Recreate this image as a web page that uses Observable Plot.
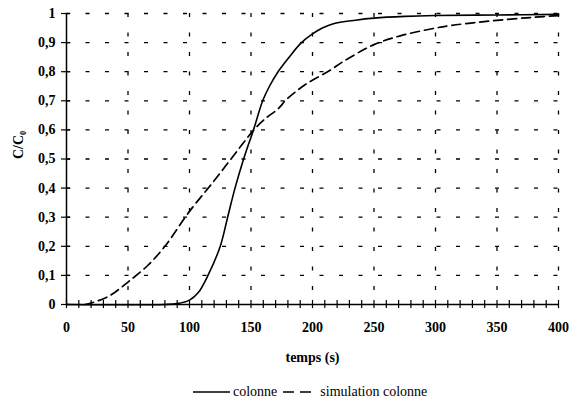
<!DOCTYPE html>
<html><head><meta charset="utf-8">
<script src="https://cdn.jsdelivr.net/npm/d3@7"></script>
<script src="https://cdn.jsdelivr.net/npm/@observablehq/plot@0.6"></script>
<style>
body{margin:0;background:#fff;font-family:"Liberation Serif","Times New Roman",serif}
#chart svg{display:block}
#legend{position:relative;height:16px;margin-top:9px;font-family:"Liberation Serif","Times New Roman",serif;font-size:14px;line-height:16px;color:#000;white-space:nowrap}
#legend .inner{position:absolute;left:193px;top:0;display:flex;align-items:center}
#legend svg{display:block}
</style>
</head><body><div id="chart"></div>
<div id="legend"><div class="inner">
<svg width="37" height="8"><line x1="0" y1="4" x2="37" y2="4" stroke="#000" stroke-width="1.3"/></svg>
<span style="margin:0 6px 0 3px">colonne</span>
<svg width="30" height="8"><line x1="0" y1="4" x2="30" y2="4" stroke="#000" stroke-width="1.3" stroke-dasharray="11,6"/></svg>
<span style="margin-left:7px">simulation colonne</span>
</div></div>
<script>
// colonne (measured)
const colonneT = [0, 80, 90, 100, 107, 115, 125, 131, 137, 144, 152, 159.5, 165, 172, 181, 191, 200, 208, 217, 235, 250, 275, 300, 350, 400];
const colonneC = [0, 0, 0.003, 0.015, 0.04, 0.1, 0.2, 0.3, 0.4, 0.5, 0.6, 0.7, 0.75, 0.8, 0.85, 0.9, 0.93, 0.95, 0.965, 0.977, 0.984, 0.99, 0.993, 0.995, 0.997];
// simulation colonne
const simT = [15, 20, 30, 37, 50, 66, 80, 100, 120, 137, 145, 153, 162, 172, 179, 195, 214, 225, 250, 272, 300, 313, 335, 359, 380, 400];
const simC = [0, 0.005, 0.02, 0.035, 0.077, 0.134, 0.2, 0.32, 0.425, 0.518, 0.562, 0.603, 0.64, 0.672, 0.705, 0.758, 0.804, 0.835, 0.893, 0.924, 0.95, 0.959, 0.97, 0.98, 0.987, 0.993];

const xTicks = [0, 50, 100, 150, 200, 250, 300, 350, 400];
const xMinor = d3.range(0, 401, 10);
const yTicks = [0, 0.1, 0.2, 0.3, 0.4, 0.5, 0.6, 0.7, 0.8, 0.9, 1];
const xGrid = [50, 100, 150, 200, 250, 300, 350, 400];
const yGrid = [0.1, 0.2, 0.3, 0.4, 0.5, 0.6, 0.7, 0.8, 0.9, 1];

const col = colonneT.map((t, i) => ({t, c: colonneC[i]}));
const sim = simT.map((t, i) => ({t, c: simC[i]}));
const fmt = d => String(d).replace(".", ",");
const serif = "'Liberation Serif', 'Times New Roman', serif";

const plot = Plot.plot({
  width: 580, height: 375,
  marginLeft: 66, marginRight: 22, marginTop: 13, marginBottom: 71,
  style: {fontFamily: serif, fontSize: "14px", fontWeight: "bold", color: "#000", background: "#fff"},
  x: {domain: [0, 400]},
  y: {domain: [0, 1]},
  marks: [
    Plot.ruleX(xGrid, {x: d => d, stroke: "#000", strokeWidth: 1.3, strokeDasharray: "4,15.5"}),
    Plot.ruleY(yGrid, {y: d => d, stroke: "#000", strokeWidth: 1.3, strokeDasharray: "4,15.5"}),
    Plot.line(sim, {x: "t", y: "c", curve: "catmull-rom", stroke: "#000", strokeWidth: 1.7, strokeDasharray: "9,5"}),
    Plot.line(col, {x: "t", y: "c", curve: "catmull-rom", stroke: "#000", strokeWidth: 1.6}),
    Plot.ruleY([0], {stroke: "#000", strokeWidth: 1.5}),
    Plot.ruleX([0], {stroke: "#000", strokeWidth: 1.5}),
    Plot.ruleX(xMinor, {x: d => d, y1: -0.014, y2: 0.014, stroke: "#000", strokeWidth: 1.2}),
    Plot.ruleY(yTicks, {y: d => d, x1: 0, x2: 3.5, stroke: "#000", strokeWidth: 1.2}),
    Plot.axisX(xTicks, {tickSize: 0, tickPadding: 18, tickFormat: d => d, label: null, fontFamily: serif, fontSize: 14}),
    Plot.axisY(yTicks, {tickSize: 5, tickPadding: 6, tickFormat: fmt, label: null, stroke: "#000", strokeWidth: 1.2, fontFamily: serif, fontSize: 14}),
    Plot.text(["temps (s)"], {frameAnchor: "bottom", lineAnchor: "middle", dy: 53, fontWeight: "bold", fontSize: 14, fontFamily: serif}),
    Plot.text(["C/C₀"], {frameAnchor: "left", dx: -48, rotate: -90, fontWeight: "bold", fontSize: 14, fontFamily: serif})
  ]
});
document.getElementById("chart").append(plot);
</script>
</body></html>
